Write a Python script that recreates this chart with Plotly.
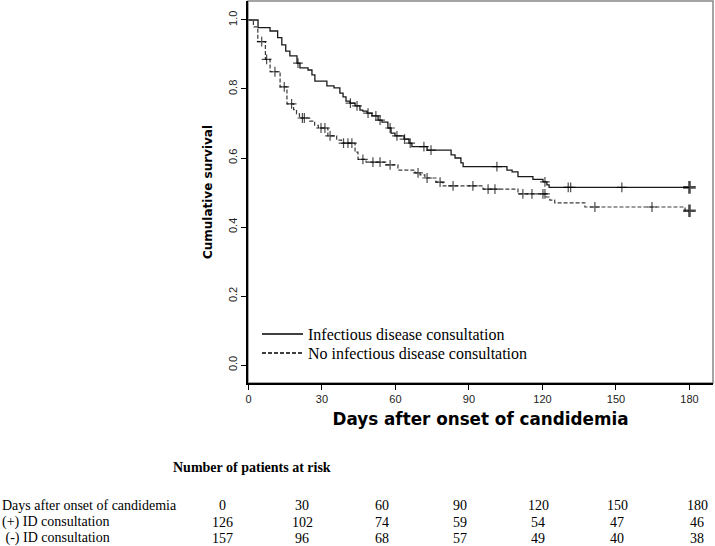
import numpy as np
import plotly.graph_objects as go

# ---------------- data ----------------
id_times = [0, 3.9, 8.8, 11.9, 13.6, 15.2, 16.9, 19.8, 21.0, 24.3, 25.9, 27.1, 32.0, 34.9, 37.3, 38.6,
            39.8, 41.4, 43.5, 45.5, 46.7, 48.4, 50.4, 52.9, 54.5, 56.9, 58.2, 59.8, 63.5, 65.5, 66.7,
            72.9, 82.7, 84.3, 86.7, 87.6, 105.5, 107.6, 110.0, 116.1, 120.2, 121.8, 122.7]
id_surv = [1.0, 0.978, 0.968, 0.949, 0.928, 0.910, 0.896, 0.875, 0.861, 0.855, 0.841, 0.823, 0.809, 0.803,
           0.788, 0.777, 0.765, 0.759, 0.751, 0.739, 0.736, 0.730, 0.722, 0.710, 0.704, 0.687, 0.672, 0.664,
           0.655, 0.643, 0.633, 0.623, 0.609, 0.600, 0.586, 0.575, 0.565, 0.560, 0.546, 0.538, 0.531, 0.522, 0.515]
id_censor = [20.2, 41.6, 44.3, 48.8, 52.0, 53.7, 57.8, 60.6, 63.7, 66.0, 71.6, 74.5, 101.4, 121.0,
             130.5, 131.5, 152.4, 180]

no_times = [0, 2.0, 3.8, 6.9, 8.8, 12.9, 15.7, 18.4, 19.6, 20.8, 25.0, 27.0, 28.5, 32.4, 36.0, 38.0,
            43.5, 44.7, 48.0, 56.0, 61.0, 68.0, 70.0, 72.0, 76.5, 79.4, 95.7, 110.0, 121.5, 123.0, 125.0,
            137.3, 178.2]
no_surv = [1.0, 0.980, 0.937, 0.886, 0.850, 0.806, 0.757, 0.740, 0.728, 0.716, 0.707, 0.695, 0.687, 0.664,
           0.652, 0.643, 0.617, 0.596, 0.588, 0.580, 0.565, 0.557, 0.551, 0.542, 0.530, 0.519, 0.510, 0.496,
           0.487, 0.478, 0.470, 0.458, 0.447]
no_censor = [5.4, 7.4, 10.8, 14.6, 17.6, 22.0, 22.8, 29.6, 31.2, 33.3, 38.8, 40.6, 42.2, 46.7, 50.8, 53.7,
             57.8, 69.2, 72.9, 78.2, 83.5, 91.6, 97.8, 100.6, 112.0, 115.7, 120.2, 121.0, 141.4, 164.7, 180]

end_day = 180
series_names = ["Infectious disease consultation", "No infectious disease consultation"]

x_ticks = [0, 30, 60, 90, 120, 150, 180]
y_ticks = [0.0, 0.2, 0.4, 0.6, 0.8, 1.0]

risk_title = "Number of patients at risk"
risk_row_labels = ["Days after onset of candidemia", "(+) ID consultation", " (-) ID consultation"]
risk_days = [0, 30, 60, 90, 120, 150, 180]
risk_pos = [126, 102, 74, 59, 54, 47, 46]
risk_neg = [157, 96, 68, 57, 49, 40, 38]

# ---------------- helpers ----------------
def step_xy(times, surv, end):
    return list(times) + [end], list(surv) + [surv[-1]]

def surv_at(times, surv, t):
    idx = np.searchsorted(np.array(times), np.array(t), side="right") - 1
    return list(np.array(surv)[idx])

W, H = 715, 546
ML, MR, MT, MB = 248, 2, 1, 163
PW, PH = W - ML - MR, H - MT - MB

def px_x(px):
    return (px - ML) / PW

def px_y(py):
    return (H - MB - py) / PH

fig = go.Figure()

styles = [
    dict(color="#1a1a1a", width=1.3, dash="solid"),
    dict(color="#3a3a3a", width=1.2, dash="4px,2px"),
]
for name, times, surv, cens, st in [
    (series_names[0], id_times, id_surv, id_censor, styles[0]),
    (series_names[1], no_times, no_surv, no_censor, styles[1]),
]:
    xs, ys = step_xy(times, surv, end_day)
    fig.add_trace(go.Scatter(x=xs, y=ys, mode="lines", line_shape="hv", name=name, showlegend=False,
                             line=dict(color=st["color"], width=st["width"], dash=st["dash"]),
                             hoverinfo="skip"))
    cy = surv_at(times, surv, cens)
    sizes = [7] * (len(cens) - 1) + [9]
    widths = [1.2] * (len(cens) - 1) + [2.6]
    fig.add_trace(go.Scatter(x=cens, y=cy, mode="markers", showlegend=False, hoverinfo="skip",
                             marker=dict(symbol="cross-thin", size=sizes, color="#000",
                                         line=dict(color="#000", width=widths))))

axis_font = dict(family="Liberation Sans, Arial", size=11, color="#222")
fig.update_xaxes(range=[-0.2, 189.6], tickmode="array", tickvals=x_ticks, ticks="outside", ticklen=5,
                 tickwidth=1, tickcolor="black", showline=True, linecolor="black", linewidth=1.5,
                 showgrid=False, zeroline=False, tickfont=axis_font,
                 title=dict(text="<b>Days after onset of candidemia</b>",
                            font=dict(family="DejaVu Sans", size=16.8, color="black"), standoff=9))
fig.update_yaxes(range=[-0.052, 1.055], tickmode="array", tickvals=y_ticks, tickformat=".1f",
                 ticks="outside", ticklen=5, tickwidth=1, tickcolor="black", tickangle=-90,
                 showline=True, linecolor="black", linewidth=1.5, showgrid=False, zeroline=False,
                 tickfont=axis_font,
                 title=dict(text="<b>Cumulative survival</b>",
                            font=dict(family="DejaVu Sans", size=12, color="black"), standoff=12))

shapes = [dict(type="rect", xref="paper", yref="paper", x0=0, x1=1, y0=0, y1=1,
               line=dict(color="#888", width=1.5), layer="below")]

# manual legend (layout only)
leg_font = dict(family="Liberation Serif, Times New Roman", size=16, color="black")
annotations = []
for name, st, yy in [(series_names[0], styles[0], 334), (series_names[1], styles[1], 353)]:
    shapes.append(dict(type="line", xref="paper", yref="paper", x0=px_x(262), x1=px_x(303),
                       y0=px_y(yy), y1=px_y(yy),
                       line=dict(color="black", width=1.5, dash="solid" if st["dash"] == "solid" else "4px,2px")))
    annotations.append(dict(text=name, x=px_x(306), y=px_y(yy), xref="paper", yref="paper",
                            showarrow=False, xanchor="left", yanchor="middle", font=leg_font))

tfont = dict(family="Liberation Serif, Times New Roman", size=14, color="black")
annotations.append(dict(text="<b>" + risk_title + "</b>", x=px_x(252), y=px_y(467), xref="paper",
                        yref="paper", showarrow=False, xanchor="center", yanchor="middle", font=tfont))
row_y = [506, 522, 538]
for lab, yy in zip(risk_row_labels, row_y):
    annotations.append(dict(text=lab.replace(" ", "&nbsp;", 1) if lab.startswith(" ") else lab,
                            x=px_x(0), y=px_y(yy), xref="paper", yref="paper", showarrow=False,
                            xanchor="left", yanchor="middle", font=tfont))
col_x = [222, 302, 382, 460, 538, 617, 697]
for row_vals, yy in zip([risk_days, risk_pos, risk_neg], row_y):
    for v, cx in zip(row_vals, col_x):
        annotations.append(dict(text=str(v), x=px_x(cx), y=px_y(yy), xref="paper", yref="paper",
                                showarrow=False, xanchor="center", yanchor="middle", font=tfont))

fig.update_layout(
    width=W, height=H, margin=dict(l=ML, r=MR, t=MT, b=MB, pad=0),
    paper_bgcolor="white", plot_bgcolor="white",
    showlegend=False,
    shapes=shapes, annotations=annotations,
)

fig.write_html("out.html", config={"displayModeBar": False},
               post_script="document.body.style.margin='0';document.body.style.overflow='hidden';")
